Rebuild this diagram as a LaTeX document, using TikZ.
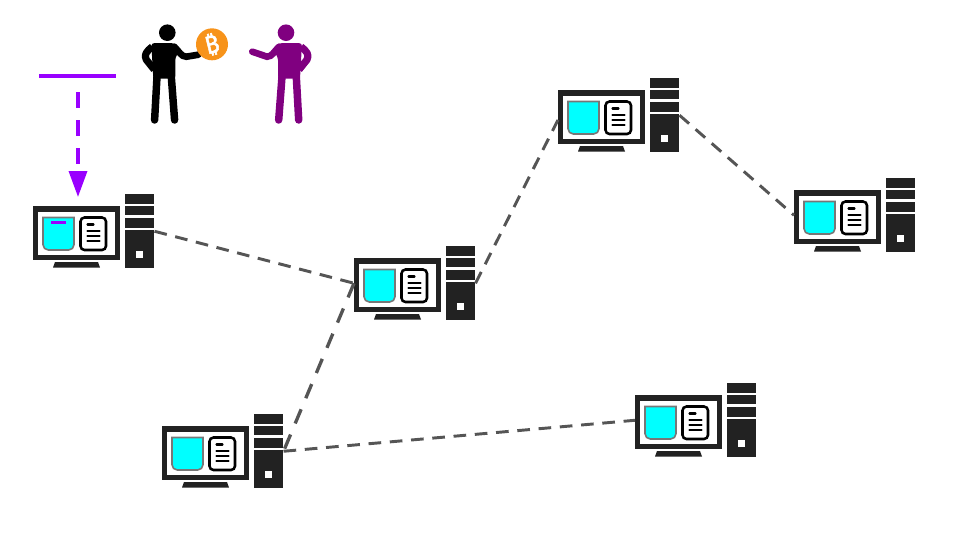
\documentclass[tikz,border=0pt]{standalone}
\usepackage{fontspec}
\usetikzlibrary{arrows.meta}
\newfontfamily\coinfont[FakeBold=2]{Noto Sans}
\definecolor{pcdark}{HTML}{222222}
\definecolor{linkgray}{HTML}{555555}
\definecolor{txpurple}{HTML}{9900FF}
\definecolor{coinorange}{HTML}{F7931A}
\definecolor{walletcyan}{HTML}{00FFFF}
\definecolor{walletedge}{HTML}{777777}
\definecolor{buyerpurple}{HTML}{800080}
\tikzset{
  pcbox/.style={minimum width=90.75pt,minimum height=55.5pt,inner sep=0pt,anchor=north west},
  link/.style={draw=linkgray,line width=2.2pt,dash pattern=on 9.5pt off 6.5pt},
  longlink/.style={draw=linkgray,line width=2.5pt,dash pattern=on 11.5pt off 9pt},
  txline/.style={draw=txpurple,line width=2.6pt},
  doctext/.style={line width=1.7pt,line cap=round},
  pics/computer/.style={code={
    % monitor
    \fill[pcdark] (0,12) rectangle (87,66);
    \fill[white] (5.3,17.7) rectangle (81.7,61);
    \fill[pcdark] (20,73.5) -- (22,68) -- (65,68) -- (67,73.5) -- cycle;
    % wallet panel
    \filldraw[fill=walletcyan,draw=walletedge,line width=1.2pt] (10,23.5) [rounded corners=4pt] -- (10,56) -- (41,56) [sharp corners] -- (41,23.5) -- cycle;
    % document
    \filldraw[fill=white,draw=black,line width=1.9pt,rounded corners=3pt] (47.5,23.5) rectangle (73,56);
    \draw[doctext] (54.5,30.5) -- (60.5,30.5);
    \foreach \y in {37,42,47}{
      \draw[doctext] (54.5,\y) -- (66.5,\y);
    }
    % tower
    \fill[pcdark] (91.5,0) rectangle (121,9.5);
    \fill[pcdark] (91.5,12) rectangle (121,21);
    \fill[pcdark] (91.5,24) rectangle (121,34);
    \fill[pcdark] (91.5,36) rectangle (121,74);
    \fill[white] (103,57) rectangle (110,64);
  }},
  pics/person/.style={code={
    \fill (0,0) circle (8.3);
    \fill[rounded corners=2pt] (-16,10.5) -- (7,10.5) -- (13,17) -- (8,25) -- (8,46) -- (-14,46) -- cycle;
    \draw[line width=5.6pt,line cap=round] (-10.3,44) -- (-12.7,87.3);
    \draw[line width=5.6pt,line cap=round] (4,44) -- (7.3,87.3);
    \draw[line width=5.4pt,line join=round] (-15,14) .. controls (-20,18) and (-24,22) .. (-21,27) -- (-13,37);
    \draw[line width=5pt,line cap=round] (7,14) .. controls (12,19) and (14,24) .. (19,24) -- (#1);
  }},
}
\begin{document}
\begin{tikzpicture}[x=.75pt,y=-.75pt]
  \useasboundingbox (0,0) rectangle (960,540);
  \foreach \name/\x/\y in {pcA/33/194,pcB/354/246,pcC/558/78,pcD/794/178,pcE/162/414,pcF/635/383}{
    \node[pcbox] (\name) at (\x,\y) {};
    \pic at (\name.north west) {computer};
  }
  % purple bar only in the first wallet
  \fill[txpurple] (51,221) rectangle (66,224);
  % links
  \draw[link] (pcA.east) -- (pcB.west);
  \draw[longlink] (pcB.west) -- (pcE.east);
  \draw[link] (pcB.east) -- ([yshift=-3.5pt]pcC.west);
  \draw[link] (pcC.east) -- (pcD.west);
  \draw[link] (pcE.east) -- (pcF.west);
  % transaction
  \coordinate (txleft) at (39,76);
  \coordinate (txright) at (116,76);
  \coordinate (txstart) at (78,92);
  \coordinate (txend) at (78,197);
  \draw[txline] (txleft) -- (txright);
  \draw[txline,dash pattern=on 12pt off 9pt,-{Triangle[length=19.5pt,width=13.5pt,sep=0pt]}] (txstart) -- (txend);
  % people and coin
  \pic[black] at (167.3,32.7) {person={31,22}};
  \pic[xscale=-1,color=buyerpurple] at (286,32.7) {person={33.7,19}};
  \node[circle,fill=coinorange,minimum size=24pt,inner sep=0pt,text=white,font=\coinfont\fontsize{18}{18}\selectfont] (coin) at (212,44.3) {\rotatebox{14}{₿}};
\end{tikzpicture}
\end{document}
